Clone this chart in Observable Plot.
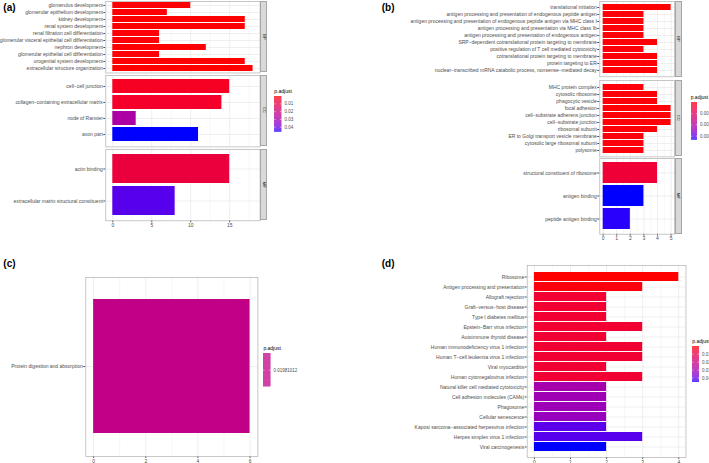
<!DOCTYPE html>
<html><head><meta charset="utf-8">
<script src="https://cdn.jsdelivr.net/npm/d3@7"></script>
<script src="https://cdn.jsdelivr.net/npm/@observablehq/plot@0.6"></script>
<style>
body{margin:0;background:#fff;}
#fig{position:relative;width:709px;height:463px;overflow:hidden;background:#fff;font-family:"Liberation Sans",Arial,sans-serif;}
.abs{position:absolute;line-height:0;}
.tag{position:absolute;font-weight:bold;font-size:10px;line-height:1;color:#000;}
.strip{position:absolute;background:#d9d9d9;border:0.6px solid #a6a6a6;box-sizing:border-box;}
.strip span{position:absolute;left:50%;top:50%;transform:translate(-50%,-50%) rotate(90deg);font-size:4.2px;line-height:1;color:#1a1a1a;white-space:nowrap;}
.ltitle{position:absolute;font-size:5px;line-height:1;color:#000;white-space:nowrap;}
</style></head>
<body><div id="fig"></div>
<script>
// ---------- Panel (a): GO enrichment ----------
const aBPTerms = ["glomerulus development","glomerular epithelium development","kidney development","renal system development","renal filtration cell differentiation","glomerular visceral epithelial cell differentiation","nephron development","glomerular epithelial cell differentiation","urogenital system development","extracellular structure organization"];
const aBPCounts = [10,7,17,17,6,6,12,6,17,18];
const aBPPadj = [0.0008,0.0009,0.0006,0.0006,0.0010,0.0010,0.0009,0.0010,0.0007,0.0006];
const aCCTerms = ["cell−cell junction","collagen−containing extracellular matrix","node of Ranvier","axon part"];
const aCCCounts = [15,14,3,11];
const aCCPadj = [0.0043,0.0052,0.0290,0.0464];
const aMFTerms = ["actin binding","extracellular matrix structural constituent"];
const aMFCounts = [15,8];
const aMFPadj = [0.0088,0.0427];
const aTicks = [0,5,10,15];
const aMinor = [2.5,7.5,12.5,17.5];
const aLegendTicks = [0.01,0.02,0.03,0.04];

// ---------- Panel (b): GO enrichment ----------
const bBPTerms = ["translational initiation","antigen processing and presentation of endogenous peptide antigen","antigen processing and presentation of endogenous peptide antigen via MHC class I","antigen processing and presentation via MHC class Ib","antigen processing and presentation of endogenous antigen","SRP−dependent cotranslational protein targeting to membrane","positive regulation of T cell mediated cytotoxicity","cotranslational protein targeting to membrane","protein targeting to ER","nuclear−transcribed mRNA catabolic process, nonsense−mediated decay"];
const bBPCounts = [5,3,3,3,3,4,3,4,4,4];
const bBPPadj = [0.000002,0.00004,0.00004,0.00004,0.00004,0.00003,0.00005,0.00003,0.00003,0.00003];
const bCCTerms = ["MHC protein complex","cytosolic ribosome","phagocytic vesicle","focal adhesion","cell−substrate adherens junction","cell−substrate junction","ribosomal subunit","ER to Golgi transport vesicle membrane","cytosolic large ribosomal subunit","polysome"];
const bCCCounts = [3,4,4,5,5,5,4,3,3,3];
const bCCPadj = [0.00005,0.00004,0.00005,0.00003,0.00003,0.00003,0.00005,0.00006,0.00006,0.00006];
const bMFTerms = ["structural constituent of ribosome","antigen binding","peptide antigen binding"];
const bMFCounts = [4,3,2];
const bMFPadj = [0.0005,0.00336,0.00330];
const bTicks = [0,1,2,3,4,5];
const bMinor = [0.5,1.5,2.5,3.5,4.5];
const bLegendTicks = [0.001,0.002,0.003];

// ---------- Panel (c): KEGG ----------
const cTerms = ["Protein digestion and absorption"];
const cCounts = [6];
const cPadj = [0.01981012];
const cTicks = [0,2,4,6];
const cMinor = [1,3,5];

// ---------- Panel (d): KEGG ----------
const dTerms = ["Ribosome","Antigen processing and presentation","Allograft rejection","Graft−versus−host disease","Type I diabetes mellitus","Epstein−Barr virus infection","Autoimmune thyroid disease","Human immunodeficiency virus 1 infection","Human T−cell leukemia virus 1 infection","Viral myocarditis","Human cytomegalovirus infection","Natural killer cell mediated cytotoxicity","Cell adhesion molecules (CAMs)","Phagosome","Cellular senescence","Kaposi sarcoma−associated herpesvirus infection","Herpes simplex virus 1 infection","Viral carcinogenesis"];
const dCounts = [4,3,2,2,2,3,2,3,3,2,3,2,2,2,2,2,3,2];
const dPadj = [0.0002,0.0012,0.0060,0.0060,0.0060,0.0060,0.0061,0.0061,0.0061,0.0062,0.0062,0.0300,0.0315,0.0320,0.0330,0.0415,0.0420,0.0456];
const dTicks = [0,1,2,3,4];
const dMinor = [0.5,1.5,2.5,3.5];

const fig = document.getElementById("fig");
const FONT = "Liberation Sans, Arial, sans-serif";

function place(node, left, top) {
  const div = document.createElement("div");
  div.className = "abs";
  div.style.left = left + "px";
  div.style.top = top + "px";
  div.appendChild(node);
  fig.appendChild(div);
}
function html(cls, text, left, top, w, h) {
  const div = document.createElement("div");
  div.className = cls;
  div.style.left = left + "px";
  div.style.top = top + "px";
  if (w) div.style.width = w + "px";
  if (h) div.style.height = h + "px";
  if (cls === "strip") { const s = document.createElement("span"); s.textContent = text; div.appendChild(s); }
  else div.textContent = text;
  fig.appendChild(div);
}
function colorScale(domain) {
  return {type: "linear", domain, range: ["red", "blue"], interpolate: d3.interpolateLab};
}

function barPanel(o) {
  const [l, t, r, b] = o.frame;
  const mt = 1, mr = 1, mb = o.axis ? 10 : 1;
  const width = r - o.x0 + mr;
  const height = b - t + mt + mb;
  const data = o.terms.map((d, i) => ({term: d, count: o.counts[i], p: o.padj[i]}));
  const svg = Plot.plot({
    width, height,
    marginLeft: l - o.x0, marginRight: mr, marginTop: mt, marginBottom: mb,
    style: {fontSize: "5px", fontFamily: FONT, color: "#4d4d4d", background: "transparent", overflow: "visible", maxWidth: "none"},
    x: {domain: o.xDomain, ticks: o.ticks, tickFormat: d => String(d), tickSize: 2, tickPadding: 0.5, label: null, axis: o.axis ? "bottom" : null},
    y: {domain: o.terms, paddingInner: 0.1, paddingOuter: 0.15, tickSize: 2, tickPadding: 1, label: null},
    color: colorScale(o.colorDomain),
    marks: [
      Plot.ruleX(o.minor, {stroke: "#ececec", strokeWidth: 0.4}),
      Plot.ruleX(o.ticks, {stroke: "#e6e6e6", strokeWidth: 0.7}),
      Plot.ruleY(o.terms, {stroke: "#e6e6e6", strokeWidth: 0.7}),
      Plot.barX(data, {x: "count", y: "term", fill: "p"}),
      Plot.frame({stroke: "#b0b0b0", strokeWidth: 0.7})
    ]
  });
  place(svg, o.x0, t - mt);
  if (o.strip) html("strip", o.strip, o.stripX[0], t, o.stripX[1] - o.stripX[0], b - t);
}

function colorbar(o) {
  const [lo, hi] = o.domain;
  const yd = lo === hi ? [lo - 0.001, hi + 0.001] : [lo, hi];
  const n = 60;
  const slices = d3.range(n).map(i => ({y1: yd[0] + (yd[1] - yd[0]) * i / n, y2: yd[0] + (yd[1] - yd[0]) * (i + 1) / n}));
  const svg = Plot.plot({
    width: o.w + 40, height: o.h,
    marginLeft: 0, marginRight: 40, marginTop: 0, marginBottom: 0,
    style: {fontSize: "4.5px", fontFamily: FONT, color: "#4d4d4d", background: "transparent", overflow: "visible", maxWidth: "none"},
    x: {domain: [0, 1], axis: null},
    y: {domain: yd, reverse: true, axis: "right", ticks: o.ticks, tickFormat: o.fmt, tickSize: 0, tickPadding: 2.5, label: null},
    color: colorScale(o.domain),
    marks: [
      Plot.rect(slices, {x1: 0, x2: 1, y1: "y1", y2: "y2", fill: d => (d.y1 + d.y2) / 2}),
      Plot.ruleY(o.ticks, {x1: 0, x2: 0.2, stroke: "white", strokeWidth: 0.5}),
      Plot.ruleY(o.ticks, {x1: 0.8, x2: 1, stroke: "white", strokeWidth: 0.5})
    ]
  });
  place(svg, o.x, o.y);
  html("ltitle", "p.adjust", o.x, o.y - 7.2);
}

// ----- (a)
const aDomain = d3.extent([...aBPPadj, ...aCCPadj, ...aMFPadj]);
const aX = [-0.9, 18.9];
barPanel({terms: aBPTerms, counts: aBPCounts, padj: aBPPadj, colorDomain: aDomain, xDomain: aX, ticks: aTicks, minor: aMinor, x0: 0, frame: [105.3, 0.8, 259.6, 72.3], axis: false, strip: "BP", stripX: [260.4, 267.4]});
barPanel({terms: aCCTerms, counts: aCCCounts, padj: aCCPadj, colorDomain: aDomain, xDomain: aX, ticks: aTicks, minor: aMinor, x0: 0, frame: [105.3, 74.8, 259.6, 146.2], axis: false, strip: "CC", stripX: [260.4, 267.4]});
barPanel({terms: aMFTerms, counts: aMFCounts, padj: aMFPadj, colorDomain: aDomain, xDomain: aX, ticks: aTicks, minor: aMinor, x0: 0, frame: [105.3, 148.9, 259.6, 220.2], axis: true, strip: "MF", stripX: [260.4, 267.4]});
colorbar({domain: aDomain, ticks: aLegendTicks, fmt: d3.format(".2f"), x: 274.3, y: 96, w: 7.4, h: 35.7});

// ----- (b)
const bDomain = d3.extent([...bBPPadj, ...bCCPadj, ...bMFPadj]);
const bX = [-0.25, 5.25];
barPanel({terms: bBPTerms, counts: bBPCounts, padj: bBPPadj, colorDomain: bDomain, xDomain: bX, ticks: bTicks, minor: bMinor, x0: 360, frame: [599.3, 1.3, 674, 76.6], axis: false, strip: "BP", stripX: [674.8, 681.6]});
barPanel({terms: bCCTerms, counts: bCCCounts, padj: bCCPadj, colorDomain: bDomain, xDomain: bX, ticks: bTicks, minor: bMinor, x0: 360, frame: [599.3, 79.6, 674, 156], axis: false, strip: "CC", stripX: [674.8, 681.6]});
barPanel({terms: bMFTerms, counts: bMFCounts, padj: bMFPadj, colorDomain: bDomain, xDomain: bX, ticks: bTicks, minor: bMinor, x0: 360, frame: [599.3, 158.3, 674, 234], axis: true, strip: "MF", stripX: [674.8, 681.6]});
colorbar({domain: bDomain, ticks: bLegendTicks, fmt: d3.format(".3f"), x: 690.7, y: 102.3, w: 6, h: 37.7});

// ----- (c)
const cDomain = d3.extent(cPadj);
barPanel({terms: cTerms, counts: cCounts, padj: cPadj, colorDomain: cDomain, xDomain: [-0.3, 6.3], ticks: cTicks, minor: cMinor, x0: 0, frame: [85.3, 277.4, 257.4, 456.4], axis: true});
colorbar({domain: cDomain, ticks: cPadj, fmt: d => String(d), x: 263.4, y: 353.3, w: 7.5, h: 33.4});

// ----- (d)
const dDomain = d3.extent(dPadj);
barPanel({terms: dTerms, counts: dCounts, padj: dPadj, colorDomain: dDomain, xDomain: [-0.2, 4.2], ticks: dTicks, minor: dMinor, x0: 360, frame: [526.7, 264.5, 685.5, 456.6], axis: true});
colorbar({domain: dDomain, ticks: aLegendTicks, fmt: d3.format(".2f"), x: 692.3, y: 345.7, w: 7, h: 36});

// panel tags
html("tag", "(a)", 3.3, 2.7);
html("tag", "(b)", 381.7, 2.7);
html("tag", "(c)", 3.3, 258.7);
html("tag", "(d)", 381.7, 258.7);
</script>
</body></html>
